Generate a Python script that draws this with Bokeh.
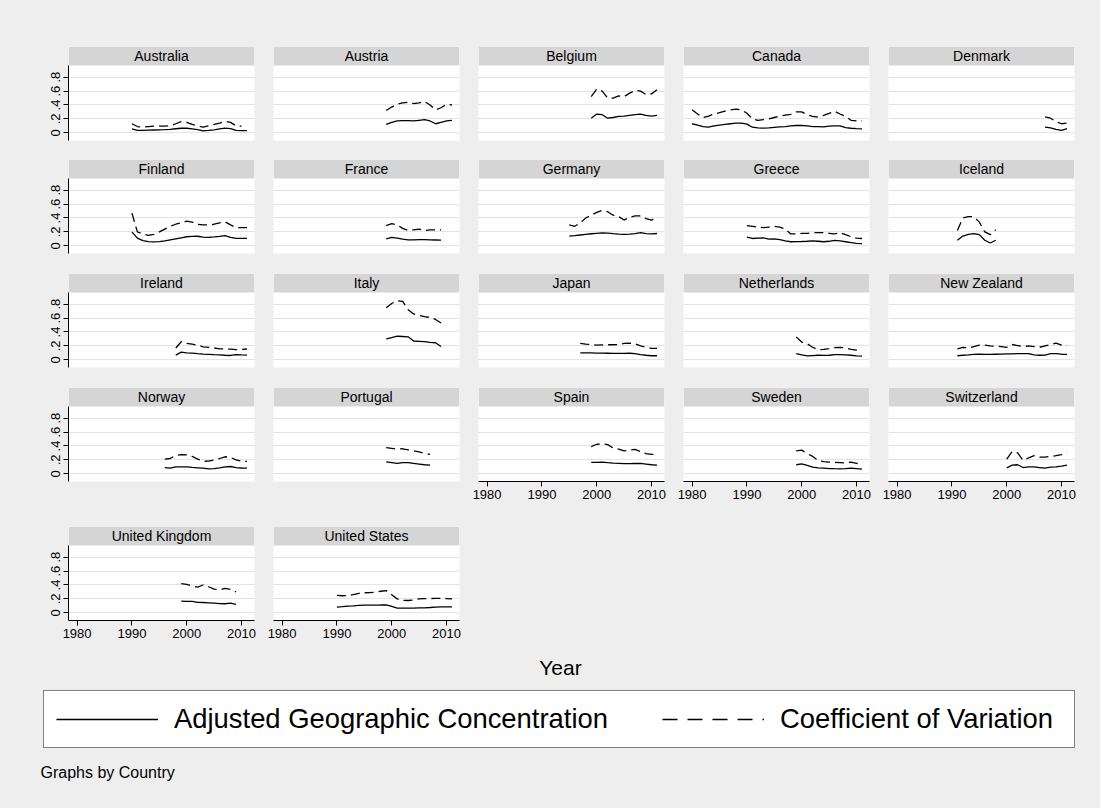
from bokeh.plotting import figure
from bokeh.models import Range1d, FixedTicker, Legend, LegendItem, Spacer
from bokeh.layouts import row, column
from bokeh.embed import file_html
from bokeh.resources import INLINE
from bokeh.core.properties import value

NAN = float("nan")

countries = ["Australia", "Austria", "Belgium", "Canada", "Denmark",
             "Finland", "France", "Germany", "Greece", "Iceland",
             "Ireland", "Italy", "Japan", "Netherlands", "New Zealand",
             "Norway", "Portugal", "Spain", "Sweden", "Switzerland",
             "United Kingdom", "United States"]

y_tick_values = [0, 0.2, 0.4, 0.6, 0.8]
y_tick_labels = ["0", ".2", ".4", ".6", ".8"]
x_tick_values = [1980, 1990, 2000, 2010]
legend_labels = ["Adjusted Geographic Concentration", "Coefficient of Variation"]

australia_year = [1990, 1991, 1992, 1993, 1994, 1995, 1996, 1997, 1998, 1999, 2000,
                  2001, 2002, 2003, 2004, 2005, 2006, 2007, 2008, 2009, 2010, 2011]
australia_agc = [0.058, 0.036, 0.035, 0.038, 0.040, 0.042, 0.045, 0.050, 0.058, 0.065, 0.065,
                 0.055, 0.045, 0.028, 0.035, 0.043, 0.055, 0.066, 0.060, 0.035, 0.030, 0.030]
australia_cv = [0.13, 0.09, 0.08, 0.09, 0.095, 0.096, 0.096, 0.10, 0.13, 0.16, 0.15,
                0.12, 0.10, 0.08, 0.10, 0.12, 0.14, 0.165, 0.15, 0.10, 0.095, NAN]

austria_year = [1999, 2000, 2001, 2002, 2003, 2004, 2005, 2006, 2007, 2008, 2009, 2010, 2011]
austria_agc = [0.12, 0.15, 0.17, 0.175, 0.175, 0.17, 0.18, 0.19, 0.17, 0.13, 0.15, 0.17, 0.18]
austria_cv = [0.32, 0.37, 0.41, 0.43, 0.44, 0.42, 0.43, 0.45, 0.40, 0.33, 0.36, 0.41, 0.40]

belgium_year = [1999, 2000, 2001, 2002, 2003, 2004, 2005, 2006, 2007, 2008, 2009, 2010, 2011]
belgium_agc = [0.21, 0.27, 0.26, 0.21, 0.22, 0.235, 0.24, 0.25, 0.26, 0.27, 0.25, 0.24, 0.25]
belgium_cv = [0.52, 0.63, 0.60, 0.50, 0.50, 0.53, 0.52, 0.57, 0.61, 0.60, 0.55, 0.56, 0.62]

canada_year = [1980, 1981, 1982, 1983, 1984, 1985, 1986, 1987, 1988, 1989, 1990,
               1991, 1992, 1993, 1994, 1995, 1996, 1997, 1998, 1999, 2000,
               2001, 2002, 2003, 2004, 2005, 2006, 2007, 2008, 2009, 2010, 2011]
canada_agc = [0.13, 0.11, 0.09, 0.08, 0.10, 0.11, 0.12, 0.13, 0.14, 0.14, 0.125,
              0.08, 0.07, 0.068, 0.07, 0.078, 0.085, 0.09, 0.10, 0.105, 0.105,
              0.10, 0.09, 0.088, 0.086, 0.095, 0.10, 0.10, 0.075, 0.065, 0.06, 0.057]
canada_cv = [0.33, 0.27, 0.22, 0.24, 0.27, 0.29, 0.31, 0.33, 0.34, 0.33, 0.28,
             0.20, 0.18, 0.19, 0.20, 0.22, 0.24, 0.255, 0.265, 0.30, 0.30,
             0.26, 0.235, 0.225, 0.25, 0.28, 0.31, 0.27, 0.235, 0.18, 0.17, 0.17]

denmark_year = [2007, 2008, 2009, 2010, 2011]
denmark_agc = [0.08, 0.07, 0.05, 0.035, 0.06]
denmark_cv = [0.23, 0.21, 0.16, 0.13, 0.14]

finland_year = [1990, 1991, 1992, 1993, 1994, 1995, 1996, 1997, 1998, 1999, 2000,
                2001, 2002, 2003, 2004, 2005, 2006, 2007, 2008, 2009, 2010, 2011]
finland_agc = [0.20, 0.11, 0.075, 0.06, 0.055, 0.06, 0.07, 0.085, 0.10, 0.115, 0.13,
               0.135, 0.137, 0.125, 0.12, 0.127, 0.135, 0.145, 0.12, 0.108, 0.107, 0.107]
finland_cv = [0.47, 0.20, 0.17, 0.15, 0.165, 0.20, 0.24, 0.28, 0.31, 0.33, 0.355,
              0.34, 0.31, 0.30, 0.30, 0.31, 0.33, 0.345, 0.30, 0.26, 0.26, 0.26]

france_year = [1999, 2000, 2001, 2002, 2003, 2004, 2005, 2006, 2007, 2008, 2009]
france_agc = [0.10, 0.12, 0.11, 0.095, 0.085, 0.085, 0.088, 0.088, 0.085, 0.083, 0.08]
france_cv = [0.29, 0.32, 0.30, 0.25, 0.22, 0.23, 0.24, 0.22, 0.23, 0.23, 0.23]

germany_year = [1995, 1996, 1997, 1998, 1999, 2000, 2001, 2002, 2003,
                2004, 2005, 2006, 2007, 2008, 2009, 2010, 2011]
germany_agc = [0.14, 0.145, 0.155, 0.165, 0.173, 0.18, 0.187, 0.183, 0.175,
               0.168, 0.163, 0.167, 0.175, 0.19, 0.175, 0.17, 0.177]
germany_cv = [0.30, 0.28, 0.33, 0.40, 0.44, 0.48, 0.51, 0.49, 0.44,
              0.42, 0.37, 0.41, 0.43, 0.43, 0.39, 0.37, 0.41]

greece_year = [1990, 1991, 1992, 1993, 1994, 1995, 1996, 1997, 1998, 1999, 2000,
               2001, 2002, 2003, 2004, 2005, 2006, 2007, 2008, 2009, 2010, 2011]
greece_agc = [0.125, 0.105, 0.11, 0.115, 0.095, 0.10, 0.09, 0.07, 0.058, 0.06, 0.062,
              0.065, 0.07, 0.065, 0.058, 0.065, 0.077, 0.07, 0.058, 0.045, 0.034, 0.03]
greece_cv = [0.29, 0.28, 0.27, 0.26, 0.27, 0.28, 0.27, 0.24, 0.17, 0.17, 0.178,
             0.18, 0.187, 0.19, 0.19, 0.18, 0.17, 0.19, 0.16, 0.13, 0.11, 0.105]

iceland_year = [1991, 1992, 1993, 1994, 1995, 1996, 1997, 1998]
iceland_agc = [0.08, 0.14, 0.165, 0.175, 0.16, 0.08, 0.04, 0.08]
iceland_cv = [0.22, 0.40, 0.42, 0.42, 0.34, 0.20, 0.16, 0.23]

ireland_year = [1998, 1999, 2000, 2001, 2002, 2003, 2004, 2005, 2006, 2007, 2008, 2009, 2010, 2011]
ireland_agc = [0.067, 0.11, 0.10, 0.095, 0.088, 0.082, 0.078, 0.074, 0.072, 0.065, 0.062, 0.075, 0.07, 0.068]
ireland_cv = [0.17, 0.26, 0.235, 0.225, 0.21, 0.187, 0.18, 0.17, 0.158, 0.155, 0.153, 0.145, 0.15, 0.155]

italy_year = [1999, 2000, 2001, 2002, 2003, 2004, 2005, 2006, 2007, 2008, 2009]
italy_agc = [0.30, 0.32, 0.34, 0.335, 0.33, 0.27, 0.265, 0.26, 0.25, 0.245, 0.19]
italy_cv = [0.75, 0.81, 0.85, 0.84, 0.72, 0.66, 0.64, 0.62, 0.61, 0.58, 0.53]

japan_year = [1997, 1998, 1999, 2000, 2001, 2002, 2003, 2004, 2005, 2006, 2007, 2008, 2009, 2010, 2011]
japan_agc = [0.10, 0.10, 0.098, 0.096, 0.095, 0.094, 0.093, 0.092, 0.093, 0.094, 0.09, 0.075, 0.065, 0.058, 0.058]
japan_cv = [0.235, 0.225, 0.22, 0.21, 0.215, 0.216, 0.216, 0.22, 0.235, 0.24, 0.23, 0.20, 0.18, 0.165, 0.163]

netherlands_year = [1999, 2000, 2001, 2002, 2003, 2004, 2005, 2006, 2007, 2008, 2009, 2010, 2011]
netherlands_agc = [0.09, 0.07, 0.055, 0.06, 0.065, 0.063, 0.065, 0.075, 0.075, 0.072, 0.065, 0.055, 0.053]
netherlands_cv = [0.33, 0.255, 0.23, 0.18, 0.145, 0.15, 0.16, 0.175, 0.18, 0.172, 0.15, 0.14, 0.135]

newzealand_year = [1991, 1992, 1993, 1994, 1995, 1996, 1997, 1998, 1999, 2000, 2001,
                   2002, 2003, 2004, 2005, 2006, 2007, 2008, 2009, 2010, 2011]
newzealand_agc = [0.058, 0.065, 0.07, 0.078, 0.08, 0.078, 0.077, 0.08, 0.082, 0.084, 0.086,
                  0.088, 0.09, 0.09, 0.07, 0.065, 0.068, 0.088, 0.09, 0.08, 0.078]
newzealand_cv = [0.158, 0.18, 0.17, 0.19, 0.21, 0.21, 0.20, 0.195, 0.19, 0.18, 0.22,
                 0.205, 0.19, 0.20, 0.19, 0.18, 0.20, 0.22, 0.24, 0.21, 0.20]

norway_year = [1996, 1997, 1998, 1999, 2000, 2001, 2002, 2003, 2004, 2005, 2006, 2007, 2008, 2009, 2010, 2011]
norway_agc = [0.09, 0.08, 0.10, 0.10, 0.10, 0.092, 0.086, 0.08, 0.072, 0.075, 0.085, 0.10, 0.105, 0.09, 0.083, 0.082]
norway_cv = [0.21, 0.22, 0.265, 0.275, 0.273, 0.25, 0.21, 0.18, 0.182, 0.20, 0.22, 0.245, 0.235, 0.20, 0.18, 0.178]

portugal_year = [1999, 2000, 2001, 2002, 2003, 2004, 2005, 2006, 2007]
portugal_agc = [0.17, 0.16, 0.15, 0.16, 0.16, 0.15, 0.14, 0.13, 0.125]
portugal_cv = [0.375, 0.365, 0.355, 0.36, 0.345, 0.33, 0.315, 0.295, 0.28]

spain_year = [1999, 2000, 2001, 2002, 2003, 2004, 2005, 2006, 2007, 2008, 2009, 2010, 2011]
spain_agc = [0.163, 0.165, 0.168, 0.16, 0.153, 0.15, 0.145, 0.145, 0.148, 0.15, 0.14, 0.13, 0.125]
spain_cv = [0.39, 0.425, 0.43, 0.42, 0.37, 0.355, 0.33, 0.34, 0.35, 0.32, 0.29, 0.28, 0.278]

sweden_year = [1999, 2000, 2001, 2002, 2003, 2004, 2005, 2006, 2007, 2008, 2009, 2010, 2011]
sweden_agc = [0.13, 0.144, 0.12, 0.095, 0.085, 0.08, 0.075, 0.073, 0.072, 0.075, 0.082, 0.075, 0.067]
sweden_cv = [0.33, 0.34, 0.29, 0.25, 0.19, 0.175, 0.168, 0.165, 0.16, 0.155, 0.168, 0.15, 0.14]

switzerland_year = [2000, 2001, 2002, 2003, 2004, 2005, 2006, 2007, 2008, 2009, 2010, 2011]
switzerland_agc = [0.085, 0.125, 0.13, 0.09, 0.10, 0.10, 0.09, 0.08, 0.095, 0.10, 0.11, 0.125]
switzerland_cv = [0.21, 0.32, 0.30, 0.19, 0.23, 0.26, 0.24, 0.24, 0.25, 0.26, 0.275, 0.31]

uk_year = [1999, 2000, 2001, 2002, 2003, 2004, 2005, 2006, 2007, 2008, 2009]
uk_agc = [0.168, 0.165, 0.163, 0.15, 0.148, 0.144, 0.14, 0.132, 0.13, 0.14, 0.12]
uk_cv = [0.42, 0.41, 0.385, 0.37, 0.40, 0.375, 0.34, 0.33, 0.35, 0.335, 0.30]

us_year = [1990, 1991, 1992, 1993, 1994, 1995, 1996, 1997, 1998, 1999, 2000,
           2001, 2002, 2003, 2004, 2005, 2006, 2007, 2008, 2009, 2010, 2011]
us_agc = [0.082, 0.088, 0.095, 0.10, 0.108, 0.11, 0.11, 0.11, 0.112, 0.115, 0.092,
          0.068, 0.066, 0.066, 0.068, 0.07, 0.072, 0.076, 0.082, 0.086, 0.086, 0.085]
us_cv = [0.25, 0.245, 0.25, 0.26, 0.28, 0.288, 0.29, 0.297, 0.31, 0.32, 0.26,
         0.20, 0.18, 0.177, 0.185, 0.20, 0.205, 0.205, 0.207, 0.207, 0.205, 0.20]

series = [
    (australia_year, australia_agc, australia_cv),
    (austria_year, austria_agc, austria_cv),
    (belgium_year, belgium_agc, belgium_cv),
    (canada_year, canada_agc, canada_cv),
    (denmark_year, denmark_agc, denmark_cv),
    (finland_year, finland_agc, finland_cv),
    (france_year, france_agc, france_cv),
    (germany_year, germany_agc, germany_cv),
    (greece_year, greece_agc, greece_cv),
    (iceland_year, iceland_agc, iceland_cv),
    (ireland_year, ireland_agc, ireland_cv),
    (italy_year, italy_agc, italy_cv),
    (japan_year, japan_agc, japan_cv),
    (netherlands_year, netherlands_agc, netherlands_cv),
    (newzealand_year, newzealand_agc, newzealand_cv),
    (norway_year, norway_agc, norway_cv),
    (portugal_year, portugal_agc, portugal_cv),
    (spain_year, spain_agc, spain_cv),
    (sweden_year, sweden_agc, sweden_cv),
    (switzerland_year, switzerland_agc, switzerland_cv),
    (uk_year, uk_agc, uk_cv),
    (us_year, us_agc, us_cv),
]

# ---- styling / geometry ----
FONT = "Liberation Sans"
BG = "#eeeeee"
STRIP = "#d5d5d5"
GRID = "#e3e3e3"
DASH = "9 5"

X_LO, X_HI = 1978.43, 2012.37
Y_LO = -0.111
Y_PLOT_TOP = 0.968
Y_TOP = 1.2415
FRAME_W, FRAME_H = 186, 94
ROW_TOP = [46, 0, 0, 0, 0]
ROW_BOTTOM = [19, 20, 20, 45, 28]
COL_LEFT = [68, 9, 9, 9, 9]
COL_RIGHT = [10, 10, 10, 10, 26]
NCOL = 5
N = len(countries)


def make_panel(i):
    name = countries[i]
    yrs, agc, cv = series[i]
    r, c = divmod(i, NCOL)
    show_y = c == 0
    show_x = (i + NCOL) >= N
    p = figure(frame_width=FRAME_W, frame_height=FRAME_H,
               x_range=Range1d(X_LO, X_HI), y_range=Range1d(Y_LO, Y_TOP),
               output_backend="svg", toolbar_location=None, title=None,
               x_axis_location="below" if show_x else None,
               y_axis_location="left" if show_y else None,
               min_border_left=COL_LEFT[c], min_border_right=COL_RIGHT[c],
               min_border_top=ROW_TOP[r], min_border_bottom=ROW_BOTTOM[r])
    p.border_fill_color = BG
    p.background_fill_color = "white"
    p.outline_line_color = None
    p.xgrid.visible = False
    p.ygrid.ticker = FixedTicker(ticks=y_tick_values)
    p.ygrid.grid_line_color = GRID
    p.ygrid.grid_line_width = 1

    # header strip
    p.quad(left=[X_LO], right=[X_HI], bottom=[Y_PLOT_TOP], top=[Y_TOP],
           fill_color=STRIP, line_color=None)
    p.text(x=[(X_LO + X_HI) / 2], y=[(Y_PLOT_TOP + Y_TOP) / 2], text=[name],
           text_align="center", text_baseline="middle",
           text_font=value(FONT), text_font_size="14px", text_color="black")

    p.line(yrs, agc, line_color="black", line_width=1.3)
    p.line(yrs, cv, line_color="black", line_width=1.3, line_dash=DASH)

    if show_y:
        ax = p.yaxis[0]
        ax.ticker = FixedTicker(ticks=y_tick_values)
        ax.major_label_overrides = {float(v): lab for v, lab in zip(y_tick_values, y_tick_labels)}
        ax.bounds = (Y_LO, Y_PLOT_TOP)
        ax.major_label_orientation = "vertical"
        ax.major_label_text_font = FONT
        ax.major_label_text_font_size = "13px"
        ax.major_label_text_color = "black"
        ax.major_label_standoff = 3
        ax.major_tick_out = 5
        ax.major_tick_in = 0
        ax.minor_tick_line_color = None
        ax.axis_line_color = "black"
        ax.major_tick_line_color = "black"
    if show_x:
        ax = p.xaxis[0]
        ax.ticker = FixedTicker(ticks=x_tick_values)
        ax.major_label_text_font = FONT
        ax.major_label_text_font_size = "13px"
        ax.major_label_text_color = "black"
        ax.major_label_standoff = 3
        ax.major_tick_out = 5
        ax.major_tick_in = 0
        ax.minor_tick_line_color = None
        ax.axis_line_color = "black"
        ax.major_tick_line_color = "black"
    return p


panels = [make_panel(i) for i in range(N)]
rows = []
for r in range(0, N, NCOL):
    kids = panels[r:r + NCOL]
    ri = r // NCOL
    if len(kids) < NCOL:
        fill_w = sum(COL_LEFT[k] + FRAME_W + COL_RIGHT[k] for k in range(len(kids), NCOL))
        kids = kids + [Spacer(width=fill_w, height=FRAME_H + ROW_TOP[ri] + ROW_BOTTOM[ri],
                              styles={"background-color": BG})]
    rows.append(row(*kids, spacing=0))

TOTAL_W = sum(COL_LEFT[k] + FRAME_W + COL_RIGHT[k] for k in range(NCOL))
ROWS_H = sum(FRAME_H + ROW_TOP[k] + ROW_BOTTOM[k] for k in range(5))

# ---- bottom area: axis title, legend, note ----
BW, BH = TOTAL_W, 808 - ROWS_H
b = figure(width=BW, height=BH, x_range=Range1d(0, BW), y_range=Range1d(0, BH),
           output_backend="svg", toolbar_location=None, title=None,
           x_axis_location=None, y_axis_location=None,
           min_border_left=0, min_border_right=0, min_border_top=0, min_border_bottom=0)
b.border_fill_color = BG
b.background_fill_color = BG
b.outline_line_color = None
b.xgrid.visible = False
b.ygrid.visible = False
b.text(x=[560], y=[BH - 19], text=["Year"], text_align="center", text_baseline="middle",
       text_font=value(FONT), text_font_size="21px", text_color="black")
b.text(x=[40], y=[BH - 124], text=["Graphs by Country"], text_align="left", text_baseline="middle",
       text_font=value(FONT), text_font_size="16px", text_color="black")
# legend key renderers (kept outside the visible range)
r1 = b.line(x=[-20, -10], y=[-20, -20], line_color="black", line_width=1.5)
r2 = b.line(x=[-20, -10], y=[-20, -20], line_color="black", line_width=1.5, line_dash="15 10")
leg = Legend(items=[LegendItem(label=legend_labels[0], renderers=[r1]),
                    LegendItem(label=legend_labels[1], renderers=[r2])],
             orientation="horizontal", location=(43, BH - 100),
             glyph_width=102, glyph_height=20, label_standoff=16, spacing=54,
             padding=12, label_width=282, margin=0,
             label_text_font=FONT, label_text_font_size="27.4px", label_text_color="black",
             border_line_color="black", border_line_width=1.2,
             background_fill_color="white", background_fill_alpha=1.0)
b.add_layout(leg, "center")

layout = column(*rows, b, spacing=0, styles={"background-color": BG})

open("out.html", "w").write(file_html(layout, INLINE, "Adjusted Geographic Concentration by Country"))
